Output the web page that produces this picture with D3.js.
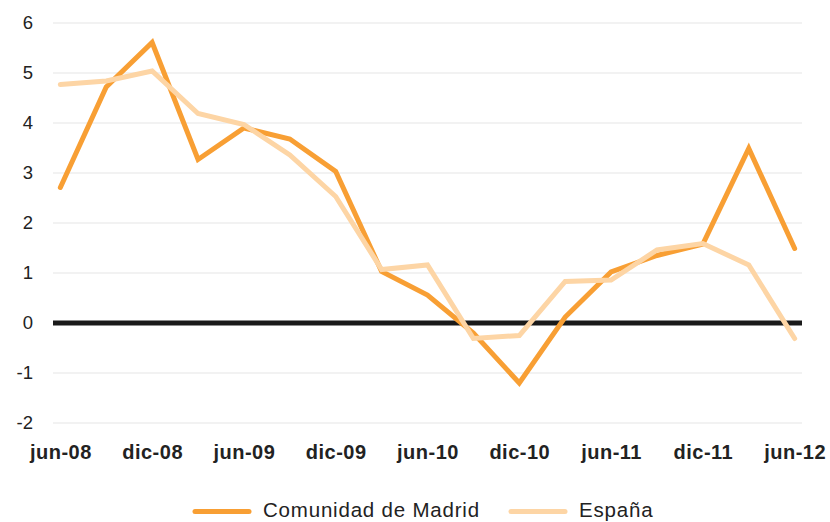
<!DOCTYPE html>
<html><head><meta charset="utf-8">
<script src="https://cdn.jsdelivr.net/npm/d3@7"></script>
<style>body{margin:0;background:#fff}svg{display:block;font-family:"Liberation Sans",Arial,sans-serif}</style>
</head><body><svg id="c" width="830" height="522"></svg>
<script>
const periods = ["jun-08","sep-08","dic-08","mar-09","jun-09","sep-09","dic-09","mar-10","jun-10","sep-10","dic-10","mar-11","jun-11","sep-11","dic-11","mar-12","jun-12"];
const madrid = [2.71,4.72,5.61,3.27,3.9,3.68,3.03,1.03,0.56,-0.2,-1.2,0.12,1.02,1.35,1.58,3.49,1.49];
const espana = [4.77,4.84,5.04,4.19,3.97,3.36,2.53,1.07,1.16,-0.31,-0.25,0.83,0.86,1.46,1.59,1.16,-0.31];
const yTicks = [-2,-1,0,1,2,3,4,5,6];
const xLabels = ["jun-08","dic-08","jun-09","dic-09","jun-10","dic-10","jun-11","dic-11","jun-12"];
const seriesNames = ["Comunidad de Madrid","España"];
const colors = ["#f89f34","#fdd5a5"];

const svg = d3.select("#c");
const x = d3.scalePoint().domain(periods).range([53,802]).padding(0.16);
const y = d3.scaleLinear().domain([-2,6]).range([423,23]);

// gridlines
svg.append("g").selectAll("line").data(yTicks.filter(d=>d!==0)).join("line")
  .attr("x1",53).attr("x2",802).attr("y1",d=>y(d)).attr("y2",d=>y(d))
  .attr("stroke","#e5e5e5").attr("stroke-width",1.2);

// y axis labels
const yAxis = svg.append("g").attr("transform","translate(33,0)")
  .call(d3.axisLeft(y).tickValues(yTicks).tickSize(0).tickPadding(0).tickFormat(d=>String(d)));
yAxis.select(".domain").remove();
yAxis.selectAll("text").attr("font-size",18.5).attr("fill","#222").attr("font-family","Liberation Sans, Arial, sans-serif");

// x axis labels
const xAxis = svg.append("g").attr("transform","translate(0,0)")
  .call(d3.axisBottom(x).tickValues(xLabels).tickSize(0).tickPadding(0));
xAxis.select(".domain").remove();
xAxis.selectAll("text").attr("y",458.5).attr("dy",null).attr("font-size",20).attr("font-weight","bold").attr("fill","#222")
  .attr("letter-spacing",0.5).attr("font-family","Liberation Sans, Arial, sans-serif");

// zero line
svg.append("line").attr("x1",53).attr("x2",802).attr("y1",y(0)).attr("y2",y(0))
  .attr("stroke","#1a1a1a").attr("stroke-width",5);

const line = d3.line().x((d,i)=>x(periods[i])).y(d=>y(d));
[madrid, espana].forEach((s,k)=>{
  svg.append("path").datum(s).attr("d",line).attr("fill","none")
    .attr("stroke",colors[k]).attr("stroke-width",5)
    .attr("stroke-linecap","round").attr("stroke-linejoin","miter");
});

// legend
const legX = [195,511];
seriesNames.forEach((n,k)=>{
  const g = svg.append("g");
  g.append("line").attr("x1",legX[k]).attr("x2",legX[k]+54).attr("y1",511.5).attr("y2",511.5)
    .attr("stroke",colors[k]).attr("stroke-width",5).attr("stroke-linecap","round");
  g.append("text").attr("x",legX[k]+68).attr("y",517.3).attr("font-size",20.5).attr("letter-spacing",0.8)
    .attr("fill","#222").text(n);
});
</script></body></html>
